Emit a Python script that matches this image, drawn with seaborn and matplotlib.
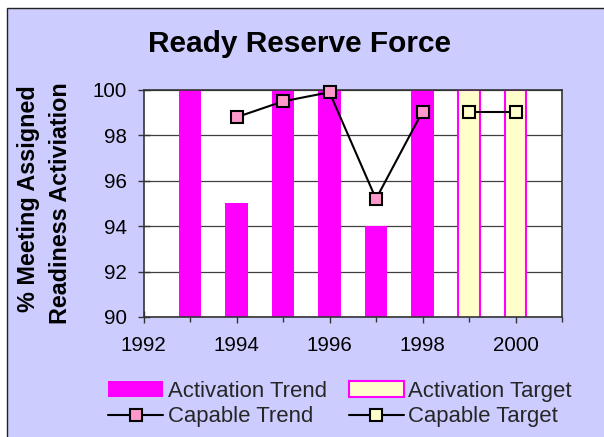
import matplotlib
matplotlib.use("Agg")
import matplotlib.pyplot as plt
import seaborn as sns
from matplotlib.patches import Rectangle, Patch
from matplotlib.lines import Line2D
from matplotlib.ticker import FixedLocator

# ---- data ----
trend_years = [1993, 1994, 1995, 1996, 1997, 1998]
activation_trend = [100, 95, 100, 100, 94, 100]
target_years = [1999, 2000]
activation_target = [100, 100]
capable_years = [1994, 1995, 1996, 1997, 1998]
capable_trend = [98.8, 99.5, 99.9, 95.2, 99.05]
capable_target_years = [1999, 2000]
capable_target = [99.05, 99.05]
x_major_ticks = [1992, 1994, 1996, 1998, 2000]
x_minor_ticks = [1993, 1995, 1997, 1999, 2001]
y_ticks = [90, 92, 94, 96, 98, 100]
legend_labels = ["Activation Trend", "Capable Trend", "Activation Target", "Capable Target"]

MAGENTA = "#FF00FF"
PINK = "#FF99CC"
CREAM = "#FFFFCC"
LAVENDER = "#CCCCFF"

sns.set_theme(style="white")
plt.rcParams['font.family'] = ['Liberation Sans', 'DejaVu Sans']

W, H = 604, 437
fig = plt.figure(figsize=(W / 100, H / 100), dpi=100, facecolor='white')
fig.add_artist(Rectangle((7.5 / W, -0.1), 1.2, 1 - 7.5 / H + 0.1,
                         transform=fig.transFigure, facecolor=LAVENDER,
                         edgecolor='#222222', linewidth=1.0, zorder=-10))

ax = fig.add_axes([143.5 / W, 1 - 317 / H, (562 - 143.5) / W, (317 - 90) / H])
ax.set_facecolor('white')
ax.set_axisbelow(True)

sns.barplot(x=trend_years, y=activation_trend, native_scale=True, ax=ax,
            color=MAGENTA, saturation=1, width=0.49, errorbar=None,
            linewidth=0, zorder=2)
sns.barplot(x=target_years, y=activation_target, native_scale=True, ax=ax,
            color=CREAM, saturation=1, width=0.47, errorbar=None,
            edgecolor=MAGENTA, linewidth=1.5, zorder=2)

sns.lineplot(x=capable_years, y=capable_trend, ax=ax, color='black',
             linewidth=1.5, marker='s', markersize=9, markerfacecolor=PINK,
             markeredgecolor='black', markeredgewidth=1.5, clip_on=False, zorder=5)
sns.lineplot(x=capable_target_years, y=capable_target, ax=ax, color='black',
             linewidth=1.5, marker='s', markersize=9, markerfacecolor=CREAM,
             markeredgecolor='black', markeredgewidth=1.5, clip_on=False, zorder=5)

ax.set_xlim(1992, 2001)
ax.set_ylim(90, 100)
ax.xaxis.set_major_locator(FixedLocator(x_major_ticks))
ax.xaxis.set_minor_locator(FixedLocator(x_minor_ticks))
ax.yaxis.set_major_locator(FixedLocator(y_ticks))
ax.set_xticklabels([str(t) for t in x_major_ticks])
ax.set_yticklabels([str(t) for t in y_ticks])
ax.set_xlabel("")
ax.set_ylabel("")

ax.grid(axis='y', color='#404040', linewidth=0.9)
ax.grid(axis='x', visible=False)
for s in ax.spines.values():
    s.set_color('#333333')
    s.set_linewidth(1.2)

ax.tick_params(axis='x', which='major', direction='inout', length=9, width=1,
               color='#333333', labelsize=14.8, pad=9.5, labelcolor='black', bottom=True)
ax.tick_params(axis='x', which='minor', direction='out', length=3.5, width=1,
               color='#333333', bottom=True)
ax.tick_params(axis='y', which='major', direction='inout', length=8, width=1,
               color='#333333', labelsize=14.8, pad=8, labelcolor='black', left=True)

fig.text(300 / W, 1 - 52.3 / H, "Ready Reserve Force", ha='center', va='baseline',
         fontsize=21.5, fontweight='bold', color='black')
fig.text(35 / W, 1 - 199 / H, "% Meeting Assigned", rotation=90, rotation_mode='anchor',
         ha='center', va='baseline', fontsize=16.8, fontweight='bold', color='black')
fig.text(66.7 / W, 1 - 203 / H, "Readiness Activiation", rotation=90, rotation_mode='anchor',
         ha='center', va='baseline', fontsize=16.8, fontweight='bold', color='black')

handles = [
    Patch(facecolor=MAGENTA, edgecolor='none'),
    Line2D([], [], color='black', linewidth=1.5, marker='s', markersize=8,
           markerfacecolor=PINK, markeredgecolor='black', markeredgewidth=1.5),
    Patch(facecolor=CREAM, edgecolor=MAGENTA, linewidth=1.5),
    Line2D([], [], color='black', linewidth=1.5, marker='s', markersize=8,
           markerfacecolor=CREAM, markeredgecolor='black', markeredgewidth=1.5),
]
fig.legend(handles, legend_labels, ncol=2, loc='upper left',
           bbox_to_anchor=(108 / W, 1 - 381 / H), frameon=False, fontsize=15.9,
           handlelength=2.5, handleheight=0.72, handletextpad=0.2,
           columnspacing=1.0, labelspacing=0.2, borderpad=0, borderaxespad=0)

fig.savefig("out.png", dpi=100, facecolor=fig.get_facecolor())
